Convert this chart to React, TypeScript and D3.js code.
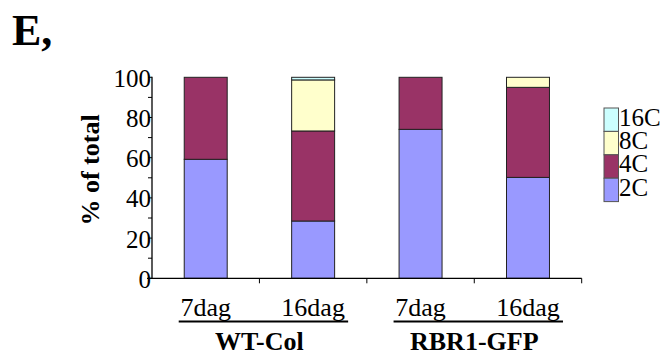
import React from "react";
import * as d3 from "d3";

const categories = ["WT-Col 7dag", "WT-Col 16dag", "RBR1-GFP 7dag", "RBR1-GFP 16dag"];
const dayLabels = ["7dag", "16dag", "7dag", "16dag"];
const groupLabels = ["WT-Col", "RBR1-GFP"];
const seriesNames = ["2C", "4C", "8C", "16C"];
const values2C = [59.2, 28.5, 74.1, 50.2];
const values4C = [40.8, 44.8, 25.9, 44.8];
const values8C = [0, 25.4, 0, 5.0];
const values16C = [0, 1.3, 0, 0];
const yTickLabels = [0, 20, 40, 60, 80, 100];
const yMinorTicks = [0, 10, 20, 30, 40, 50, 60, 70, 80, 90, 100];
const colors = ["#9999FF", "#993366", "#FFFFCC", "#CCFFFF"];

const W = 664, H = 360;
const left = 152, right = 581.7, top = 77.3, bottom = 278.3;

export default function App() {
  const rows = categories.map((c, i) => ({
    cat: c,
    "2C": values2C[i],
    "4C": values4C[i],
    "8C": values8C[i],
    "16C": values16C[i],
  }));
  const stack = d3.stack<any>().keys(seriesNames)(rows);
  const x = d3.scaleBand().domain(categories).range([left, right]).padding(0);
  const y = d3.scaleLinear().domain([0, 100]).range([bottom, top]);
  const barW = x.bandwidth() * 0.4;
  const color = d3.scaleOrdinal<string, string>().domain(seriesNames).range(colors);

  const legendTop = 108, legendItemH = 23.4, legendX = 604, legendBoxW = 14.5;
  const legendOrder = [...seriesNames].reverse();

  const groupSpan = (gi: number) => {
    const a = x(categories[gi * 2])! + x.bandwidth() / 2;
    const b = x(categories[gi * 2 + 1])! + x.bandwidth() / 2;
    return [a, b];
  };

  return (
    <svg width={W} height={H} style={{ position: "absolute", left: 0, top: 0 }}>
      <rect x={0} y={0} width={W} height={H} fill="#fff" />
      <g fontFamily="Liberation Serif" style={{ fontFamily: '"Liberation Serif"' }}>
        <text x={12} y={45} fontWeight="bold" fontSize={44}>E,</text>

        {/* bars */}
        {stack.map((s, si) =>
          s.map((d, i) => {
            const h = y(d[0]) - y(d[1]);
            if (h <= 0) return null;
            const cx = x(categories[i])! + x.bandwidth() / 2;
            return (
              <rect key={si + "-" + i} x={cx - barW / 2} y={y(d[1])} width={barW} height={h}
                fill={color(seriesNames[si])} stroke="#222" strokeWidth={1} />
            );
          })
        )}

        {/* y axis */}
        <line x1={left} x2={left} y1={top - 0.5} y2={bottom} stroke="#000" strokeWidth={1.3} />
        {yMinorTicks.map((t) => (
          <line key={t} x1={left - 4} x2={left} y1={y(t)} y2={y(t)} stroke="#000" strokeWidth={1} />
        ))}
        {yTickLabels.map((t) => (
          <text key={t} x={left - 1} y={y(t)} dy="0.38em" textAnchor="end" fontSize={25}>{t}</text>
        ))}
        <text transform={`translate(99,${170}) rotate(-90)`} textAnchor="middle"
          fontWeight="bold" fontSize={26}>% of total</text>

        {/* x axis */}
        <line x1={left - 5} x2={right} y1={bottom} y2={bottom} stroke="#000" strokeWidth={1.3} />
        {categories.map((c) => (
          <line key={c} x1={x(c)! + x.bandwidth()} x2={x(c)! + x.bandwidth()} y1={bottom} y2={bottom + 5}
            stroke="#000" strokeWidth={1} />
        ))}
        {categories.map((c, i) => (
          <text key={c} x={x(c)! + x.bandwidth() / 2} y={316} textAnchor="middle" fontSize={26}>
            {dayLabels[i]}
          </text>
        ))}
        {groupLabels.map((g, gi) => {
          const [a, b] = groupSpan(gi);
          return (
            <g key={g}>
              <line x1={a - 27} x2={b + 35} y1={321.5} y2={321.5} stroke="#000" strokeWidth={2} />
              <text x={(a + b) / 2} y={350} textAnchor="middle" fontWeight="bold" fontSize={26}>{g}</text>
            </g>
          );
        })}

        {/* legend */}
        {legendOrder.map((n, i) => (
          <g key={n}>
            <rect x={legendX} y={legendTop + i * legendItemH} width={legendBoxW} height={legendItemH}
              fill={color(n)} stroke="#555" strokeWidth={1} />
            <text x={legendX + legendBoxW + 0.5} y={legendTop + i * legendItemH + 17.5} fontSize={25}>{n}</text>
          </g>
        ))}
      </g>
    </svg>
  );
}
